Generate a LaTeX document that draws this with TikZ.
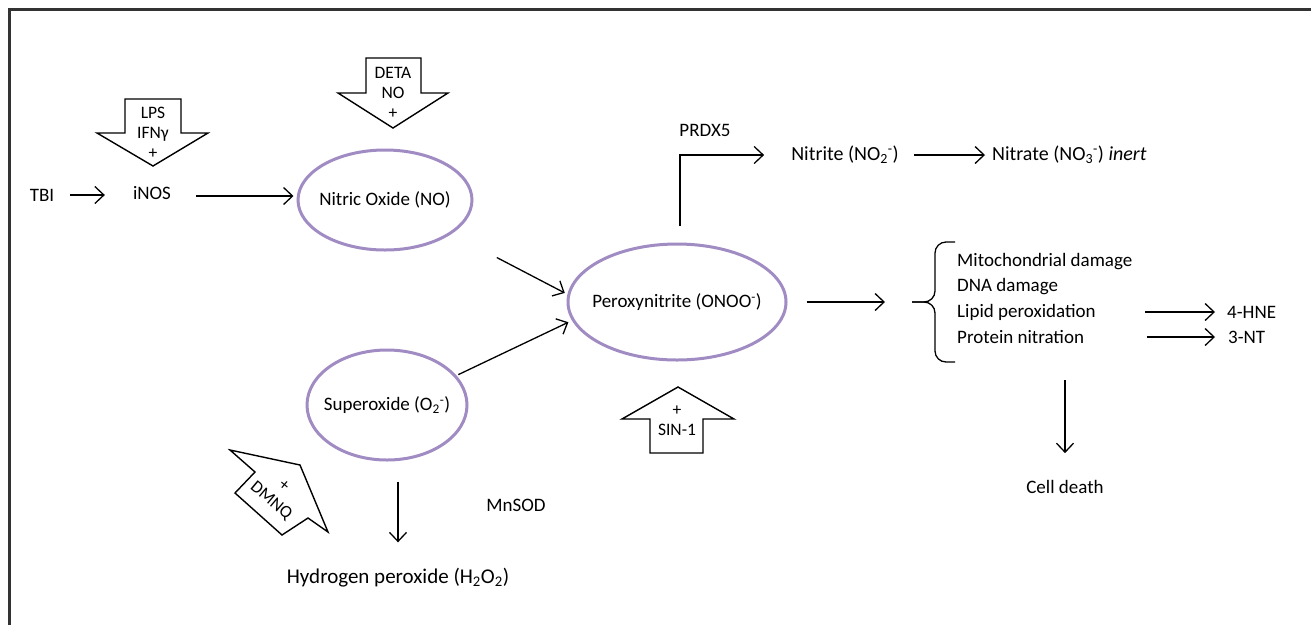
\documentclass[tikz,border=0pt]{standalone}
\usepackage{fontspec}
\setmainfont{Carlito}
\usetikzlibrary{arrows.meta,shapes.geometric}
\definecolor{purp}{RGB}{160,140,195}
\begin{document}
\begin{tikzpicture}[x=1pt,y=-1pt,
 txt/.style={font=\fontsize{19}{22}\selectfont, inner sep=0pt},
 btxt/.style={font=\fontsize{17.5}{20}\selectfont, inner sep=0pt, align=center},
 arr/.style={line width=1.3pt, -{Straight Barb[length=9pt,width=17pt,line width=1.3pt]}},
 ell/.style={ellipse, draw=purp, line width=3pt, inner sep=0pt},
 blk/.style={draw, line width=1.4pt, line join=miter, fill=white},
 frameline/.style={line width=3pt, draw=black!80},
 bracestyle/.style={line width=1.3pt, rounded corners=11pt}]
\useasboundingbox (0,0) rectangle (1311,625);
\draw[frameline] (9,625) -- (9,9) -- (1311,9);

% block arrows
\draw[blk] (125,99) -- (181,99) -- (181,133) -- (208,133) -- (153,166) -- (97,133) -- (125,133) -- cycle;
\node[btxt] (lps) at (153,133) {LPS\\IFNγ\\+};
\draw[blk] (366,58) -- (421,58) -- (421,93) -- (448,93) -- (393,128) -- (338,93) -- (366,93) -- cycle;
\node[btxt] (deta) at (393,93) {DETA\\NO\\+};
\draw[blk] (678,387) -- (734,419) -- (703,419) -- (703,453) -- (650,453) -- (650,419) -- (622,419) -- cycle;
\node[btxt] (sin) at (677,421) {+\\SIN-1};
\draw[blk] (300,465) -- (328,532) -- (308,518) -- (282,535) -- (235,493) -- (255,472) -- (230,450) -- cycle;
\node[btxt, rotate=-40] (dmnq) at (277,494) {+\\DMNQ};

% ellipses and texts
\node[ell, minimum width=174pt, minimum height=100pt] (no) at (385,200) {};
\node[txt] (notxt) at (no.center) {Nitric Oxide (NO)};
\node[ell, minimum width=218pt, minimum height=116pt] (per) at (677,302) {};
\node[txt] (pertxt) at (per.center) {Peroxynitrite (ONOO\textsuperscript{-})};
\node[ell, minimum width=160pt, minimum height=110pt] (sup) at (387,405) {};
\node[txt] (suptxt) at (sup.center) {Superoxide (O\textsubscript{2}\textsuperscript{-})};
\node[txt] (tbi) at (42,195) {TBI};
\node[txt] (inos) at (152,193) {iNOS};
\node[txt] (prdx) at (705,130) {PRDX5};
\node[txt, font=\fontsize{20}{22}\selectfont] (nitrite) at (845,155) {Nitrite (NO\textsubscript{2}\textsuperscript{-})};
\node[txt, font=\fontsize{20}{22}\selectfont, anchor=west] (nitrate) at (992,155) {Nitrate (NO\textsubscript{3}\textsuperscript{-}) \textit{inert}};
\node[txt, anchor=west] (mito) at (957,262) {Mitochondrial damage};
\node[txt, anchor=west] (dna) at (957,287) {DNA damage};
\node[txt, anchor=west] (lipid) at (957,312) {Lipid peroxidation};
\node[txt, anchor=west] (prot) at (957,337) {Protein nitration};
\node[txt, anchor=west] (hne) at (1227,312) {4-HNE};
\node[txt, anchor=west] (nt) at (1228,337) {3-NT};
\node[txt] (cd) at (1065,487) {Cell death};
\node[txt] (mnsod) at (516,505) {MnSOD};
\node[txt, font=\fontsize{21}{24}\selectfont] (h2o2) at (398,578) {Hydrogen peroxide (H\textsubscript{2}O\textsubscript{2})};
\coordinate (brtip) at (912,302);

% brace
\draw[bracestyle] (955,242) -- (935,242) -- (935,302) -- (brtip);
\draw[bracestyle] (brtip) -- (935,302) -- (935,362) -- (955,362);

% connectors
\draw[arr, shorten <=16pt, shorten >=28pt] (tbi.east) -- (tbi.east -| inos.west);
\draw[arr, shorten <=25pt, shorten >=3pt] ([yshift=-3pt]inos.east) -- ([yshift=-3pt]inos.east -| no.west);
\draw[arr, shorten <=51pt, shorten >=3pt] (no.-27) -- (per.176);
\draw[arr, shorten <=2pt, shorten >=4pt] (sup.23) -- (per.190);
\draw[arr, shorten >=27pt] ([shift={(3pt,17pt)}]per.north) |- (nitrite.west);
\draw[arr, shorten <=15pt, shorten >=7pt] (nitrite.east) -- (nitrate.west);
\draw[arr, shorten <=19pt, shorten >=27pt] (per.east) -- (per.east -| brtip);
\draw[arr] ([xshift=-82pt]hne.west) -- ([xshift=-12pt]hne.west);
\draw[arr] ([xshift=-81pt]nt.west) -- ([xshift=-13pt]nt.west);
\draw[arr] ([yshift=100pt]cd.north) -- ([yshift=27pt]cd.north);
\draw[arr, shorten <=20pt, shorten >=26pt] (h2o2.north |- sup.south) -- (h2o2.north);
\end{tikzpicture}
\end{document}
